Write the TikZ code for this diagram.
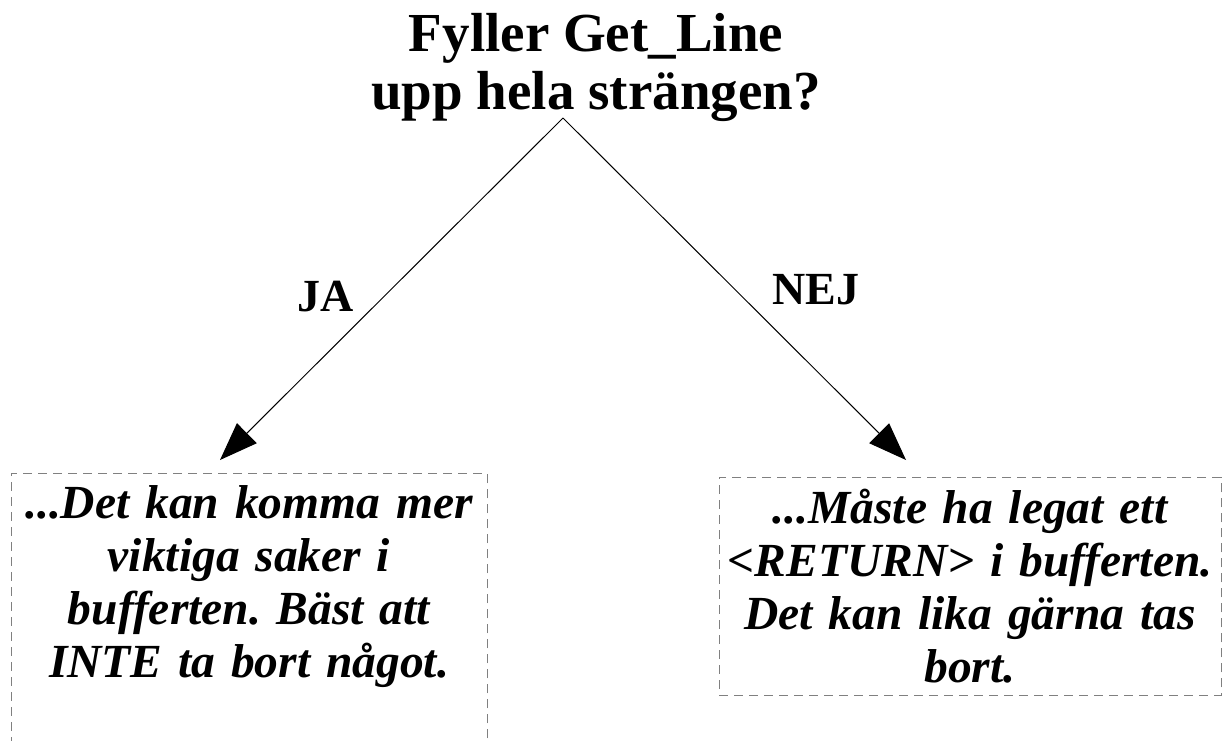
\documentclass[tikz,border=0pt]{standalone}
\usepackage{fontspec}
\setmainfont{Liberation Serif}
\usetikzlibrary{arrows.meta}
\frenchspacing

\begin{document}
\begin{tikzpicture}[x=0.5pt,y=-0.5pt]
\tikzstyle{every node}=[inner sep=0pt]
\tikzstyle{rubrik}=[anchor=north, align=center, font=\bfseries\fontsize{27.5}{29}\selectfont]
\tikzstyle{svar}=[font=\bfseries\fontsize{23}{26}\selectfont]
\tikzstyle{ruta}=[anchor=north, draw=gray, dash pattern=on 4.5pt off 3pt, align=center, inner xsep=2pt, inner ysep=6pt, font=\bfseries\itshape\fontsize{23.75}{26.5}\selectfont]
\tikzstyle{pil}=[-{Triangle[length=19pt,width=14pt]}, line width=0.5pt]
\useasboundingbox (0,0) rectangle (1226,740);
\draw (596,13) node (fraga) [rubrik] {Fyller Get\_Line\\upp hela strängen?};
\draw (249,473) node (jaruta) [ruta, text width=234pt] {...Det kan komma mer\\viktiga saker i\\bufferten. Bäst att\\INTE ta bort något.\\[60pt]\mbox{}};
\draw (970,477) node (nejruta) [ruta, text width=247pt] {...Måste ha legat ett\\<RETURN> i bufferten.\\Det kan lika gärna tas\\bort.};
\draw (326,297) node (ja) [svar] {JA};
\draw (816,290) node (nej) [svar] {NEJ};
\coordinate (topp) at (563,118);
\coordinate (jaspets) at (220,460);
\coordinate (nejspets) at (906,460);
\draw[pil] (topp) -- (jaspets);
\draw[pil] (topp) -- (nejspets);
\end{tikzpicture}
\end{document}
